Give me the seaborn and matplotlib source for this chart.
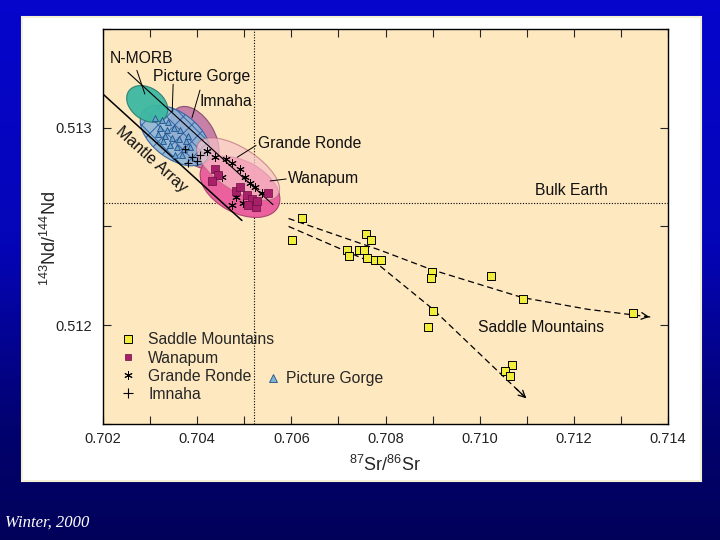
import numpy as np
import pandas as pd
import matplotlib
matplotlib.use("Agg")
import matplotlib.pyplot as plt
import matplotlib.transforms as mtransforms
from matplotlib.colors import LinearSegmentedColormap
from matplotlib.patches import Ellipse, Rectangle
from matplotlib.lines import Line2D
from matplotlib.ticker import MultipleLocator, FuncFormatter
import seaborn as sns

# ---------- data (87Sr/86Sr, 143Nd/144Nd) ----------
saddle_sr = [0.70623, 0.70602, 0.70758, 0.70770, 0.70718, 0.70722, 0.70744, 0.70754,
             0.70761, 0.70778, 0.70790, 0.70899, 0.70897, 0.71024, 0.71091, 0.70901,
             0.70891, 0.71326, 0.71068, 0.71053, 0.71065]
saddle_nd = [0.51254, 0.51243, 0.51246, 0.51243, 0.51238, 0.51235, 0.51238, 0.51238,
             0.51234, 0.51233, 0.51233, 0.51227, 0.51224, 0.51225, 0.51213, 0.51207,
             0.51199, 0.51206, 0.51180, 0.51177, 0.51174]

wanapum_sr = [0.70438, 0.70444, 0.70432, 0.70483, 0.70491, 0.70506, 0.70517,
              0.70508, 0.70525, 0.70551, 0.70527]
wanapum_nd = [0.51279, 0.51276, 0.51273, 0.51268, 0.51270, 0.51266, 0.51264,
              0.51261, 0.51260, 0.51267, 0.51263]

ronde_sr = [0.70421, 0.70438, 0.70461, 0.70474, 0.70491, 0.70502, 0.70512,
            0.70523, 0.70538, 0.70483, 0.70497, 0.70474, 0.70453]
ronde_nd = [0.51288, 0.51285, 0.51284, 0.51282, 0.51279, 0.51275, 0.51272,
            0.51270, 0.51267, 0.51265, 0.51262, 0.51261, 0.51275]

imnaha_sr = [0.70374, 0.70389, 0.70400, 0.70406, 0.70381]
imnaha_nd = [0.51289, 0.51285, 0.51283, 0.51286, 0.51282]

gorge_sr = [0.70310, 0.70325, 0.70338, 0.70321, 0.70336, 0.70351, 0.70364, 0.70317,
            0.70332, 0.70347, 0.70361, 0.70376, 0.70342, 0.70357, 0.70372, 0.70385,
            0.70353, 0.70368, 0.70327, 0.70381]
gorge_nd = [0.51305, 0.51304, 0.51303, 0.51300, 0.51299, 0.51300, 0.51299, 0.51297,
            0.51296, 0.51295, 0.51294, 0.51293, 0.51291, 0.51290, 0.51289, 0.51290,
            0.51286, 0.51286, 0.51293, 0.51296]

# fields (centre of each outlined region), drawn in this order
field_names = ["Imnaha", "Picture Gorge", "N-MORB", "Wanapum", "Grande Ronde"]
field_sr = [0.70395, 0.70353, 0.70294, 0.70491, 0.70487]
field_nd = [0.51295, 0.51296, 0.51312, 0.51270, 0.51279]

# Saddle Mountains trends
upper_trend_sr = [0.70594, 0.70788, 0.70899, 0.71090, 0.71230, 0.71366]
upper_trend_nd = [0.51254, 0.51238, 0.51228, 0.51214, 0.51208, 0.51204]
lower_trend_sr = [0.70594, 0.70788, 0.70901, 0.71103]
lower_trend_nd = [0.51250, 0.51230, 0.51208, 0.51162]

# mantle array band
mantle_low_sr = [0.70200, 0.70495]
mantle_low_nd = [0.51317, 0.51253]
mantle_up_sr = [0.70253, 0.70561]
mantle_up_nd = [0.51328, 0.51261]

bulk_earth_sr = 0.7052
bulk_earth_nd = 0.51262

# ---------- styling ----------
sns.set_style("ticks")
plt.rcParams['font.family'] = ['Liberation Sans', 'DejaVu Sans']
plt.rcParams['mathtext.default'] = 'regular'
plt.rcParams['hatch.linewidth'] = 0.7

fig = plt.figure(figsize=(7.2, 5.4), dpi=100)

# blue slide background + white panel
bg = fig.add_axes([0, 0, 1, 1], zorder=-10)
cmap = LinearSegmentedColormap.from_list(
    "slide", [(0, "#0606cc"), (0.45, "#0505b8"), (0.8, "#02026e"), (1, "#01015a")])
bg.imshow(np.linspace(0, 1, 256).reshape(-1, 1), aspect='auto', cmap=cmap,
          extent=[0, 1, 0, 1], origin='upper')
bg.add_patch(Rectangle((0.031, 0.109), 0.943, 0.859, transform=bg.transAxes,
                       facecolor='white', edgecolor='#f4f0d8', lw=1.5))
bg.set_axis_off()
fig.text(0.007, 0.025, "Winter, 2000", color='white', style='italic',
         family=['Liberation Serif', 'DejaVu Serif'], fontsize=12)

ax = fig.add_axes([0.143, 0.215, 0.785, 0.7315])
ax.set_facecolor('#fde8c0')
ax.set_xlim(0.702, 0.714)
ax.set_ylim(0.5115, 0.5135)

# ---------- fields (sizes in inches on the page) ----------
field_style = {
    "Imnaha":        dict(w=0.68, h=0.40, ang=-60, fc='#c47ca6', ec='#8a4a70', hatch=None, a=0.95),
    "Picture Gorge": dict(w=0.80, h=0.46, ang=-37, fc='#8db5d8', ec='#2a5ea0', hatch='xx', a=0.9),
    "N-MORB":        dict(w=0.45, h=0.32, ang=-35, fc='#3db8a2', ec='#2a7f70', hatch=None, a=0.95),
    "Wanapum":       dict(w=0.86, h=0.52, ang=-28, fc='#ea5a9c', ec='#a8406e', hatch=None, a=0.95),
    "Grande Ronde":  dict(w=0.95, h=0.42, ang=-33, fc='#f8c4c8', ec='#b86a78', hatch=None, a=0.7),
}
for i, name in enumerate(field_names):
    st = field_style[name]
    tr = fig.dpi_scale_trans + mtransforms.ScaledTranslation(field_sr[i], field_nd[i], ax.transData)
    e = Ellipse((0, 0), st['w'], st['h'], angle=st['ang'], transform=tr,
                facecolor=st['fc'], edgecolor=st['ec'], lw=0.8, alpha=st['a'],
                hatch=st['hatch'], zorder=2 + i * 0.1)
    ax.add_patch(e)

# mantle array lines
ax.plot(mantle_low_sr, mantle_low_nd, color='black', lw=1.1, zorder=3)
ax.plot(mantle_up_sr, mantle_up_nd, color='black', lw=0.8, zorder=3)

# bulk earth reference lines
ax.axvline(bulk_earth_sr, color='black', ls=(0, (1, 1.5)), lw=0.8, zorder=1)
ax.axhline(bulk_earth_nd, color='black', ls=(0, (1, 1.5)), lw=0.8, zorder=1)

# ---------- data points ----------
df_sm = pd.DataFrame({"sr": saddle_sr, "nd": saddle_nd})
df_wa = pd.DataFrame({"sr": wanapum_sr, "nd": wanapum_nd})
df_gr = pd.DataFrame({"sr": ronde_sr, "nd": ronde_nd})
df_im = pd.DataFrame({"sr": imnaha_sr, "nd": imnaha_nd})
df_pg = pd.DataFrame({"sr": gorge_sr, "nd": gorge_nd})

sns.scatterplot(data=df_pg, x="sr", y="nd", marker='^', s=18, color='#6fa5cc',
                edgecolor='#1d4f8a', linewidth=0.6, ax=ax, zorder=4, legend=False)
sns.scatterplot(data=df_im, x="sr", y="nd", marker='+', s=30, color='black',
                linewidth=0.8, ax=ax, zorder=4, legend=False)
sns.scatterplot(data=df_gr, x="sr", y="nd", marker=(6, 2, 0), s=30, color='black',
                linewidth=0.7, ax=ax, zorder=4, legend=False)
sns.scatterplot(data=df_wa, x="sr", y="nd", marker='s', s=26, color='#a8206a',
                edgecolor='#6a1040', linewidth=0.5, ax=ax, zorder=4, legend=False)
sns.scatterplot(data=df_sm, x="sr", y="nd", marker='s', s=32, color='#f2ec3a',
                edgecolor='black', linewidth=0.7, ax=ax, zorder=5, legend=False)

# Saddle Mountains trends with arrow heads
for tsr, tnd in [(upper_trend_sr, upper_trend_nd), (lower_trend_sr, lower_trend_nd)]:
    ax.plot(tsr, tnd, color='black', lw=0.9, ls=(0, (5, 3)), zorder=4)
    x0, y0 = tsr[-2] + 0.85 * (tsr[-1] - tsr[-2]), tnd[-2] + 0.85 * (tnd[-1] - tnd[-2])
    ax.annotate("", xy=(tsr[-1], tnd[-1]), xytext=(x0, y0),
                arrowprops=dict(arrowstyle='->', lw=0.9, color='black',
                                mutation_scale=12))

# ---------- labels ----------
lab = dict(fontsize=11.3, color='#111111', va='center', zorder=6)
ax.text(0.70215, 0.51335, "N-MORB", **lab)
ax.text(0.70306, 0.51326, "Picture Gorge", **lab)
ax.text(0.70406, 0.51313, "Imnaha", **lab)
ax.text(0.70529, 0.51292, "Grande Ronde", **lab)
ax.text(0.70593, 0.51274, "Wanapum", **lab)
ax.text(0.71118, 0.51268, "Bulk Earth", **lab)
ax.text(0.70996, 0.51199, "Saddle Mountains", **lab)
ax.text(0.70302, 0.51284, "Mantle Array", fontsize=11.5, color='#111111',
        rotation=-42, ha='center', va='center', zorder=6)

leader = dict(color='black', lw=0.7, zorder=6)
ax.plot([0.70272, 0.70289], [0.51329, 0.51317], **leader)
ax.plot([0.70349, 0.70347], [0.51322, 0.51308], **leader)
ax.plot([0.70406, 0.70389], [0.51319, 0.51305], **leader)
ax.plot([0.70525, 0.70485], [0.51291, 0.51285], **leader)
ax.plot([0.70589, 0.70555], [0.51274, 0.51273], **leader)

# ---------- legend ----------
handles = [
    Line2D([], [], ls='', marker='s', ms=6, mfc='#f2ec3a', mec='black', mew=0.7),
    Line2D([], [], ls='', marker='s', ms=5, mfc='#a8206a', mec='#6a1040', mew=0.5),
    Line2D([], [], ls='', marker=(6, 2, 0), ms=6, color='black', mew=0.7),
    Line2D([], [], ls='', marker='+', ms=7, color='black', mew=0.8),
]
leg = ax.legend(handles, ["Saddle Mountains", "Wanapum", "Grande Ronde", "Imnaha"],
                loc='lower left', bbox_to_anchor=(0.005, 0.02), frameon=False,
                fontsize=11.3, handlelength=1.0, handletextpad=0.8, labelspacing=0.2)
ax.add_artist(leg)
ax.legend([Line2D([], [], ls='', marker='^', ms=6, mfc='#7fb3d0', mec='#1d4f8a', mew=0.6)],
          ["Picture Gorge"], loc='lower left', bbox_to_anchor=(0.262, 0.06),
          frameon=False, fontsize=11.3, handlelength=1.0, handletextpad=0.3)

# ---------- axes ----------
ax.xaxis.set_major_locator(MultipleLocator(0.001))
ax.yaxis.set_major_locator(MultipleLocator(0.0005))
ax.xaxis.set_major_formatter(FuncFormatter(
    lambda v, p: f"{v:.3f}" if round(v * 1000) % 2 == 0 else ""))
ax.yaxis.set_major_formatter(FuncFormatter(
    lambda v, p: f"{v:.3f}" if round(v * 2000) % 2 == 0 else ""))
ax.tick_params(direction='in', length=6, width=0.8, top=True, right=True,
               labelsize=10.5, labelcolor='#222222', pad=8)
ax.tick_params(axis='x', pad=6)
for s in ax.spines.values():
    s.set_linewidth(1.0)
    s.set_color('black')

ax.set_xlabel("$^{87}$Sr/$^{86}$Sr", fontsize=13, labelpad=6)
ax.set_ylabel("$^{143}$Nd/$^{144}$Nd", fontsize=13)
ax.yaxis.set_label_coords(-0.076, 0.47)

fig.savefig("out.png", dpi=100)
